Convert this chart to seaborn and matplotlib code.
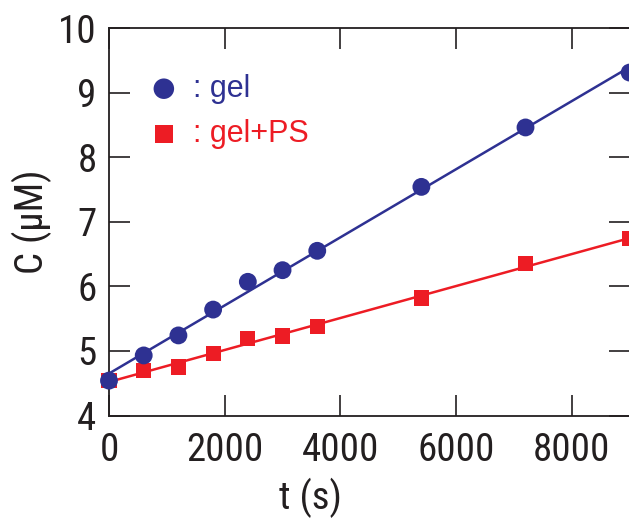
import matplotlib
matplotlib.use("Agg")
import matplotlib.pyplot as plt
import seaborn as sns
import numpy as np
import pandas as pd
from matplotlib import font_manager
from matplotlib.font_manager import FontProperties
from matplotlib.textpath import TextPath

t_gel = [0, 600, 1200, 1800, 2400, 3000, 3600, 5400, 7200, 9000]
c_gel = [4.54, 4.93, 5.24, 5.64, 6.07, 6.25, 6.55, 7.54, 8.46, 9.31]
t_ps = [0, 600, 1200, 1800, 2400, 3000, 3600, 5400, 7200, 9000]
c_ps = [4.54, 4.70, 4.75, 4.96, 5.19, 5.23, 5.38, 5.82, 6.35, 6.74]
labels = [": gel", ": gel+PS"]
xticks = [0, 2000, 4000, 6000, 8000]
yticks = [4, 5, 6, 7, 8, 9, 10]

BLUE = "#2e3192"
RED = "#ed1c24"
TXT = "#231f20"

names = {f.name for f in font_manager.fontManager.ttflist}
candidates = ["Nimbus Sans Narrow", "Liberation Sans Narrow", "Arial Narrow",
              "Roboto Condensed", "Pragati Narrow", "Archivo Narrow", "PT Sans Narrow",
              "Fira Sans Condensed", "IBM Plex Sans Condensed", "Liberation Sans"]
FONT = next((c for c in candidates if c in names), "Liberation Sans")

# choose a size so that "2000" is ~73 px wide, capped by digit height ~30 px
tp = TextPath((0, 0), "2000", size=100, prop=FontProperties(family=FONT))
ext = tp.get_extents()
size_w = 100 * (73 * 0.72) / ext.width
size_h = 100 * (30 * 0.72) / ext.height
FS = min(size_w, size_h)

sns.set_theme(style="ticks")
plt.rcParams['font.family'] = [FONT, 'DejaVu Sans']

fig = plt.figure(figsize=(6.29, 5.23), dpi=100)
ax = fig.add_axes([109/629, 1 - 415.5/523, 1 - 109/629 + 0.001, (415.5 - 28)/523])

df_gel = pd.DataFrame({"t": t_gel, "C": c_gel})
df_ps = pd.DataFrame({"t": t_ps, "C": c_ps})

sns.regplot(data=df_ps, x="t", y="C", ax=ax, ci=None, scatter=False, truncate=True,
            line_kws=dict(color=RED, lw=1.8, zorder=2))
sns.regplot(data=df_gel, x="t", y="C", ax=ax, ci=None, scatter=False, truncate=True,
            line_kws=dict(color=BLUE, lw=1.8, zorder=2))
sns.scatterplot(data=df_ps, x="t", y="C", ax=ax, marker="s", s=120, color=RED,
                edgecolor="none", zorder=3, label=labels[1], clip_on=False)
sns.scatterplot(data=df_gel, x="t", y="C", ax=ax, marker="o", s=165, color=BLUE,
                edgecolor="none", zorder=4, label=labels[0], clip_on=False)

ax.set_xlim(0, 9000)
ax.set_ylim(4, 10)
ax.set_xticks(xticks)
ax.set_yticks(yticks)
ax.tick_params(direction="in", length=15, width=1.2, top=True, right=True,
               labelsize=FS, colors=TXT)
ax.tick_params(axis="x", pad=12)
ax.tick_params(axis="y", pad=9)
for s in ax.spines.values():
    s.set_linewidth(1.3)
    s.set_color(TXT)
ax.set_xlabel("t (s)", fontsize=FS, color=TXT)
ax.set_ylabel("C (\u03bcM)", fontsize=FS, color=TXT)
ax.xaxis.set_label_coords((310 - 109) / 520, -(518 - 415.5) / 387.5, transform=ax.transAxes)
ax.xaxis.label.set_va("bottom")
ax.yaxis.set_label_coords(-(109 - 52) / 520, 0.5, transform=ax.transAxes)

h, l = ax.get_legend_handles_labels()
order = [1, 0]
leg = ax.legend([h[i] for i in order], [l[i] for i in order], loc="upper left",
                bbox_to_anchor=(0.076, 0.882), frameon=False,
                prop={"family": "Liberation Sans", "size": 22},
                handlelength=1.0, handletextpad=0.45, labelspacing=0.5, markerscale=1.15,
                borderaxespad=0, borderpad=0)
for txt, col in zip(leg.get_texts(), [BLUE, RED]):
    txt.set_color(col)

fig.savefig("out.png", dpi=100)
